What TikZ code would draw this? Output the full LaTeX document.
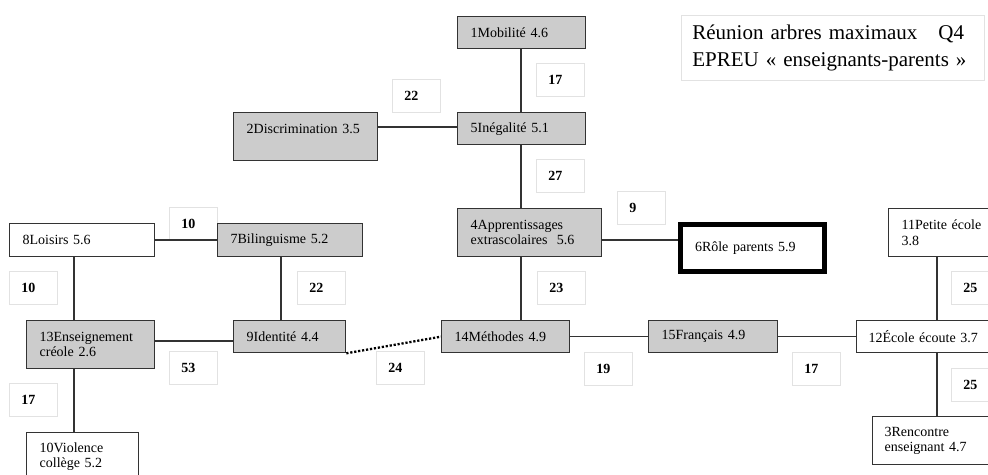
\documentclass[tikz,border=0pt]{standalone}
\usepackage{fontspec}
\setmainfont{Liberation Serif}
\definecolor{boxgray}{HTML}{CCCCCC}
\definecolor{edgedark}{HTML}{333333}
\definecolor{lblline}{HTML}{E2E2E2}
\newcommand{\nodefont}{\fontsize{14}{15.5}\selectfont}
\newcommand{\titlefont}{\fontsize{21}{27}\selectfont}
\tikzset{
  box/.style={draw=edgedark, line width=1.3pt, anchor=north west, inner xsep=13pt, inner ysep=0pt, align=left, font=\nodefont},
  gbox/.style={box, fill=boxgray},
  wbox/.style={box, fill=white},
  lbl/.style={draw=lblline, line width=0.7pt, fill=white, anchor=north west, minimum width=48pt, minimum height=33pt, inner xsep=12pt, inner ysep=0pt, text width=24pt, align=left, font=\bfseries\nodefont},
  link/.style={draw=edgedark, line width=1.3pt},
  dotlink/.style={draw=black, line width=2.3pt, dash pattern=on 2.2pt off 1.8pt},
}
\begin{document}
\begin{tikzpicture}[x=1pt, y=-1pt]
\useasboundingbox (0,0) rectangle (988,474);
\fill[white] (0,0) rectangle (988,474);
\clip (0,0) rectangle (988,474);

% title
\node[draw=lblline, line width=0.7pt, anchor=north west, minimum width=303pt, minimum height=65pt, inner xsep=11pt, text width=281pt, align=left, font=\titlefont] (title) at (681,15)
  {Réunion arbres maximaux\ \ \ Q4\\EPREU « enseignants-parents »};

% weight labels
\node[lbl] (l17a) at (536,63) {17};
\node[lbl] (l22a) at (392,79) {22};
\node[lbl] (l27) at (536,159) {27};
\node[lbl] (l9) at (617,191) {9};
\node[lbl] (l10a) at (169,207) {10};
\node[lbl] (l10b) at (9,271) {10};
\node[lbl] (l22b) at (297,271) {22};
\node[lbl] (l23) at (537,271) {23};
\node[lbl] (l25a) at (951,271) {25};
\node[lbl] (l53) at (169,351) {53};
\node[lbl] (l24) at (376,351) {24};
\node[lbl] (l19) at (584,352) {19};
\node[lbl] (l17b) at (792,352) {17};
\node[lbl] (l25b) at (951,368) {25};
\node[lbl] (l17c) at (9,383) {17};

% guide coordinates for connectors
\coordinate (vA) at (521,0);
\coordinate (vB) at (74,0);
\coordinate (vC) at (281,0);
\coordinate (vD) at (937,0);
\coordinate (hA) at (0,127);
\coordinate (hB) at (0,341);
\coordinate (hC) at (0,240);

% nodes
\node[gbox, minimum width=128pt, minimum height=32pt, text width=102pt] (n1) at (457,16) {1Mobilité 4.6};
\node[gbox, minimum width=144pt, minimum height=48pt, text width=118pt] (n2) at (233,112) {2Discrimination 3.5\\~};
\node[gbox, minimum width=128pt, minimum height=32pt, text width=102pt] (n5) at (457,112) {5Inégalité 5.1};
\node[gbox, minimum width=144pt, minimum height=48pt, text width=118pt] (n4) at (457,208) {4Apprentissages\\extrascolaires\ \ 5.6};
\node[draw=black, line width=5pt, fill=white, anchor=center, minimum width=144pt, minimum height=47pt, inner xsep=14.5pt, inner ysep=0pt, text width=115pt, align=left, font=\nodefont] (n6) at (752.5,248) {6Rôle parents 5.9};
\node[wbox, minimum width=145pt, minimum height=33pt, text width=119pt] (n8) at (9,223) {8Loisirs 5.6};
\node[gbox, minimum width=145pt, minimum height=33pt, text width=119pt] (n7) at (217,223) {7Bilinguisme 5.2};
\node[gbox, minimum width=128pt, minimum height=48pt, text width=102pt] (n13) at (26,320) {13Enseignement\\créole 2.6};
\node[gbox, minimum width=112pt, minimum height=32pt, text width=86pt] (n9) at (233,320) {9Identité 4.4};
\node[gbox, minimum width=128pt, minimum height=32pt, text width=102pt] (n14) at (441,320) {14Méthodes 4.9};
\node[gbox, minimum width=129pt, minimum height=32pt, text width=103pt] (n15) at (648,320) {15Français 4.9};
\node[wbox, minimum width=150pt, minimum height=32pt, text width=126pt, inner xsep=12pt] (n12) at (856,320) {12École écoute 3.7};
\node[wbox, minimum width=120pt, minimum height=48pt, text width=94pt] (n11) at (888,208) {11Petite école\\3.8};
\node[wbox, minimum width=130pt, minimum height=48pt, text width=106pt, inner xsep=12pt] (n3) at (872,416) {3Rencontre\\enseignant 4.7};
\node[wbox, minimum width=112pt, minimum height=48pt, text width=86pt] (n10) at (26,432) {10Violence\\collège 5.2};

% connectors
\draw[link] (n1.south -| vA) -- (n5.north -| vA);
\draw[link] (n5.south -| vA) -- (n4.north -| vA);
\draw[link] (n4.south -| vA) -- (n14.north -| vA);
\draw[link] (n2.east |- hA) -- (n5.west |- hA);
\draw[link] (n4.east |- hC) -- (n6.west |- hC);
\draw[link] (n8.east |- hC) -- (n7.west |- hC);
\draw[link] (n8.south -| vB) -- (n13.north -| vB);
\draw[link] (n13.south -| vB) -- (n10.north -| vB);
\draw[link] (n7.south -| vC) -- (n9.north -| vC);
\draw[link] (n13.east |- hB) -- (n9.west |- hB);
\draw[dotlink] (n9.south east) -- (n14.west);
\draw[link] (n14.east) -- (n15.west);
\draw[link] (n15.east) -- (n12.west);
\draw[link] (n11.south -| vD) -- (n12.north -| vD);
\draw[link] (n12.south -| vD) -- (n3.north -| vD);
\end{tikzpicture}
\end{document}
